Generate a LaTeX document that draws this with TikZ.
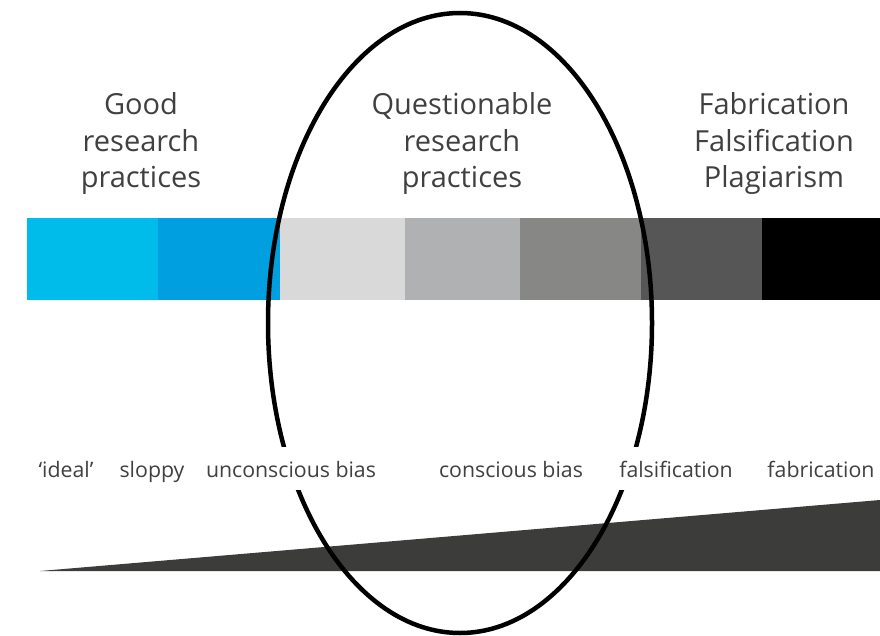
\documentclass[tikz,border=0pt]{standalone}
\usepackage{fontspec}
\setmainfont{Open Sans}
\definecolor{ink}{HTML}{404040}
\definecolor{wedge}{HTML}{3C3C3B}
\definecolor{cyanA}{HTML}{00BCEB}
\definecolor{cyanB}{HTML}{00A0E0}
\definecolor{greyA}{HTML}{D9D9D9}
\definecolor{greyB}{HTML}{B0B1B3}
\definecolor{greyC}{HTML}{878785}
\definecolor{greyD}{HTML}{575656}
\tikzset{
	head/.style={text=ink, align=center, anchor=base, inner sep=0pt, font=\fontsize{29}{36.5}\selectfont},
	tag/.style={text=ink, fill=white, anchor=base, inner xsep=2pt, inner ysep=8pt, text height=22pt, text depth=5pt, font=\fontsize{21.3}{24}\selectfont},
}

\begin{document}
\begin{tikzpicture}[x=1pt,y=-1pt]
	    \useasboundingbox (0,0) rectangle (880,636);
	    \fill[cyanA] (27,218) rectangle (158,300);
	    \fill[cyanB] (158,218) rectangle (280,300);
	    \fill[greyA] (280,218) rectangle (405,300);
	    \fill[greyB] (405,218) rectangle (520,300);
	    \fill[greyC] (520,218) rectangle (641,300);
	    \fill[greyD] (641,218) rectangle (762,300);
	    \fill[black] (762,218) rectangle (880,300);
	    \fill[wedge] (40,571) -- (880,500) -- (880,571) -- cycle;
	    \draw[line width=4.5pt] (460,323) ellipse[x radius=192, y radius=310];
	    \node[head] (good) at (141,188) {Good\\research\\practices};
	    \node[head] (qrp) at (462,188) {Questionable\\research\\practices};
	    \node[head] (ffp) at (774,188) {Fabrication\\Falsification\\Plagiarism};
	    \node[tag] (ideal) at (66,477) {‘ideal’};
	    \node[tag] (sloppy) at (152,477) {sloppy};
	    \node[tag] (unbias) at (291,477) {unconscious bias};
	    \node[tag] (cobias) at (511,477) {conscious bias};
	    \node[tag] (falsif) at (676,477) {falsification};
	    \node[tag] (fabric) at (821,477) {fabrication};
        \end{tikzpicture}
\end{document}
